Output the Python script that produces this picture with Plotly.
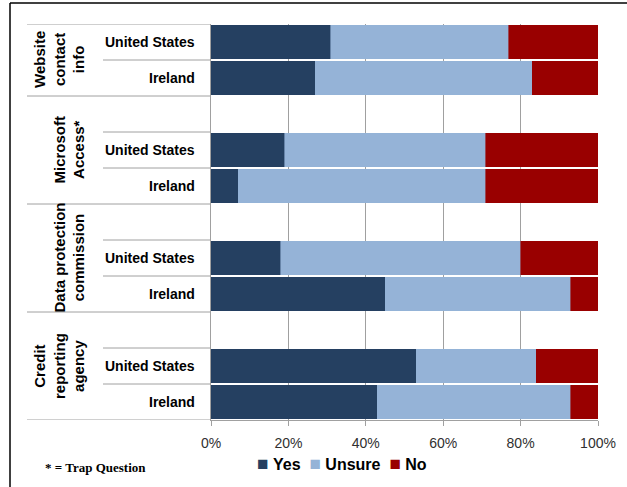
import plotly.graph_objects as go

groups = ["Website<br>contact<br>info", "Microsoft<br>Access*", "Data protection<br>commission", "Credit<br>reporting<br>agency"]
countries = ["United States", "Ireland"]
series_names = ["Yes", "Unsure", "No"]
yes = [31, 27, 19, 7, 18, 45, 53, 43]
unsure = [46, 56, 52, 64, 62, 48, 31, 50]
no = [23, 17, 29, 29, 20, 7, 16, 7]
x_ticks = [0, 20, 40, 60, 80, 100]
x_tick_labels = ["0%", "20%", "40%", "60%", "80%", "100%"]
footnote = "* = Trap Question"

W, H = 627, 487
L, R, T, B = 211, 29, 24, 67
PW = W - L - R
PH = H - T - B

def px_x(px):
    return (px - L) / PW

def px_y(py):
    return (H - B - py) / PH

# build slot keys
slots = []
bar_keys = []
group_ranges = []
for gi, g in enumerate(groups):
    start = len(slots)
    if gi > 0:
        slots.append(f"g{gi}-blank")
    for c in countries:
        key = f"g{gi}-{c}"
        slots.append(key)
        bar_keys.append(key)
    group_ranges.append((start, len(slots) - 1))

colors = {"Yes": "#254061", "Unsure": "#95B3D7", "No": "#990000"}
fig = go.Figure()
for name, vals in zip(series_names, [yes, unsure, no]):
    fig.add_trace(go.Bar(
        y=bar_keys, x=vals, name=name, orientation="h",
        marker=dict(color=colors[name], line=dict(width=0.6, color=colors[name])),
        hoverinfo="x+name", showlegend=False,
    ))

grid_col = "#A0A0A0"
shapes = []
annotations = []
x_outer = px_x(27)
x_inner = px_x(103)
for gi, (s, e) in enumerate(group_ranges):
    shapes.append(dict(type="line", xref="paper", yref="y", x0=x_outer, x1=0,
                       y0=s - 0.5, y1=s - 0.5, line=dict(color=grid_col, width=1)))
    if gi == len(group_ranges) - 1:
        shapes.append(dict(type="line", xref="paper", yref="y", x0=x_outer, x1=0,
                           y0=e + 0.5, y1=e + 0.5, line=dict(color=grid_col, width=1)))
    for k in range(s + 1, e + 1):
        shapes.append(dict(type="line", xref="paper", yref="y", x0=x_inner, x1=0,
                           y0=k - 0.5, y1=k - 0.5, line=dict(color=grid_col, width=1)))
    annotations.append(dict(
        text="<b>" + groups[gi] + "</b>", xref="paper", yref="y",
        x=px_x(89), y=(s + e) / 2, textangle=-90, showarrow=False,
        font=dict(family="Liberation Sans", size=15, color="black"),
        xanchor="right", yanchor="middle", align="center"))
for key in bar_keys:
    annotations.append(dict(
        text="<b>" + key.split("-", 1)[1] + "</b>", xref="paper", yref="y",
        x=px_x(197), y=key, showarrow=False, xanchor="right", yanchor="middle",
        font=dict(family="Liberation Sans", size=14, color="black")))

# legend as one line of text
legend_parts = []
for name in series_names:
    legend_parts.append(
        f'<span style="color:{colors[name]};font-size:19px">■</span> <b>{name}</b>')
annotations.append(dict(
    text="  ".join(legend_parts), xref="paper", yref="paper",
    x=px_x(342), y=px_y(463), xanchor="center", yanchor="middle", showarrow=False,
    font=dict(family="Liberation Sans", size=16, color="black")))

annotations.append(dict(
    text="<b>" + footnote + "</b>", xref="paper", yref="paper",
    x=px_x(43), y=px_y(468), xanchor="left", yanchor="middle",
    showarrow=False, font=dict(family="Liberation Serif", size=13, color="black")))

# outer frame (top and left)
shapes.append(dict(type="line", xref="paper", yref="paper",
                   x0=px_x(10), x1=px_x(W), y0=px_y(3), y1=px_y(3),
                   line=dict(color="black", width=1.5)))
shapes.append(dict(type="line", xref="paper", yref="paper",
                   x0=px_x(10), x1=px_x(10), y0=px_y(3), y1=px_y(H),
                   line=dict(color="black", width=1.5)))

fig.update_layout(
    width=W, height=H, barmode="stack", bargap=0.07,
    margin=dict(l=L, r=R, t=T, b=B),
    plot_bgcolor="white", paper_bgcolor="white",
    shapes=shapes, annotations=annotations, showlegend=False,
    xaxis=dict(range=[0, 100], tickvals=x_ticks, ticktext=x_tick_labels,
               showgrid=True, gridcolor=grid_col, gridwidth=1,
               showline=True, linecolor=grid_col, linewidth=1,
               ticks="outside", ticklen=5, tickcolor=grid_col,
               ticklabelstandoff=5,
               tickfont=dict(family="Liberation Sans", size=14, color="#303030"),
               zeroline=False, fixedrange=True),
    yaxis=dict(categoryorder="array", categoryarray=slots, type="category",
               range=[len(slots) - 0.5, -0.5], showticklabels=False,
               showgrid=False, showline=True, linecolor=grid_col, linewidth=1,
               zeroline=False, ticks="", fixedrange=True),
)

fig.write_html("out.html", config={"displayModeBar": False},
               post_script="document.body.style.margin='0';")
